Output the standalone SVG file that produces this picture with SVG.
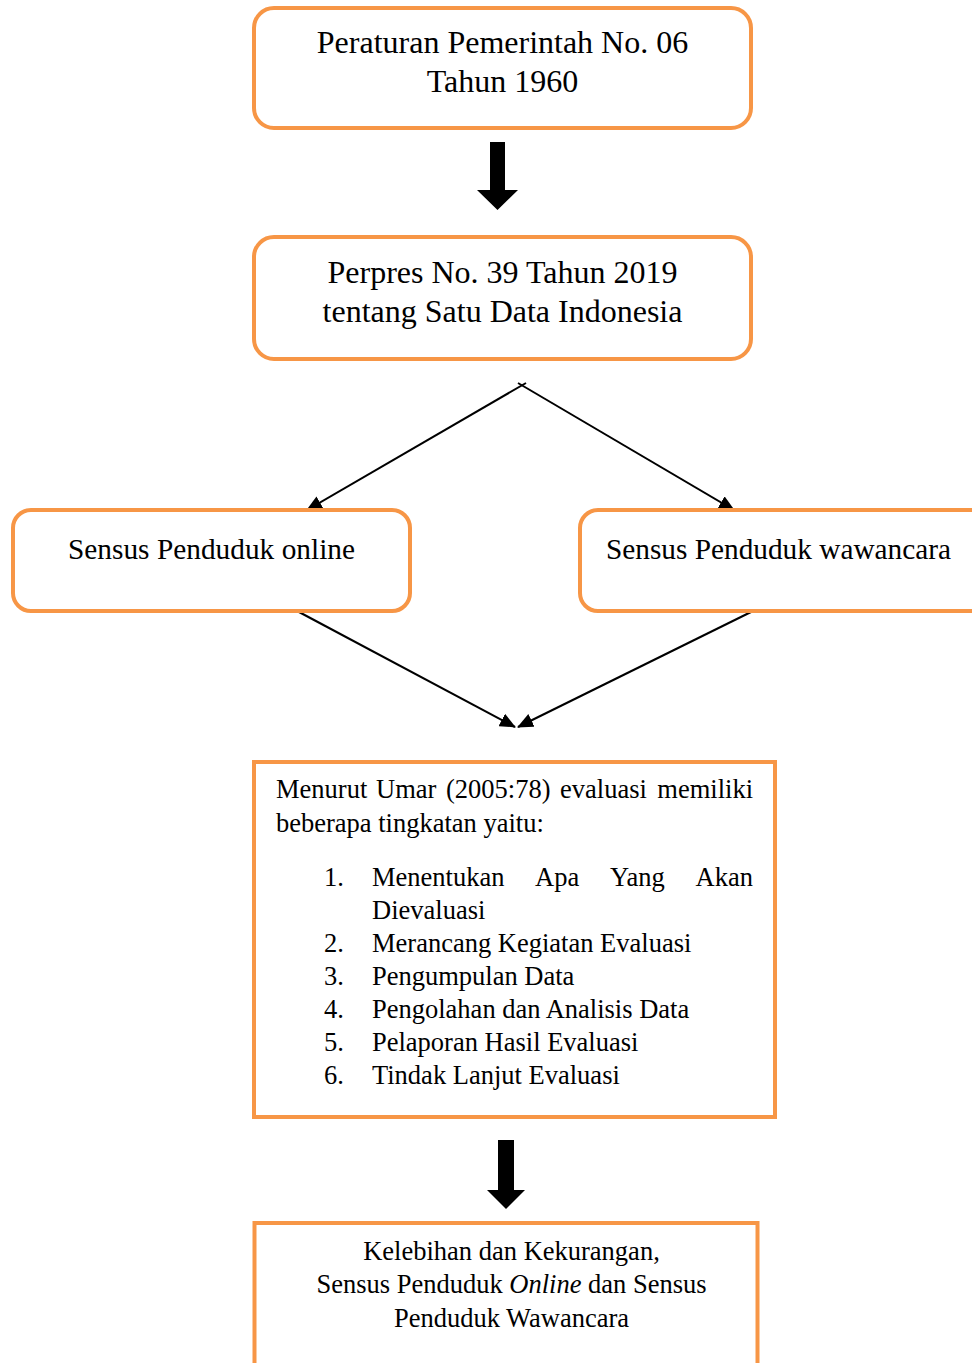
<svg xmlns="http://www.w3.org/2000/svg" width="972" height="1363" viewBox="0 0 972 1363">
<style>
.box{fill:#fff;stroke:#F79646;stroke-width:4}
.t{font-family:"Liberation Serif","Times New Roman",serif;fill:#000}
.big{font-size:32px}
.mid{font-size:29.3px}
.sm{font-size:26.5px}
.c{text-anchor:middle}
.ln{stroke:#000;stroke-width:2;fill:none;marker-end:url(#ah)}
.fat{fill:#000}
</style>
<defs>
<marker id="ah" markerUnits="userSpaceOnUse" markerWidth="16" markerHeight="14" refX="15" refY="7" orient="auto">
<path d="M0,0 L16,7 L0,14 Z" fill="#000"/>
</marker>
</defs>
<rect width="972" height="1363" fill="#fff"/>
<g id="connectors">
<polygon class="fat" points="490,142 505,142 505,190 518,190 497.5,210 477,190 490,190"/>
<line class="ln" x1="526" y1="383" x2="307" y2="510"/>
<line class="ln" x1="518" y1="383" x2="734" y2="510"/>
<line class="ln" x1="299" y1="612" x2="515" y2="727"/>
<line class="ln" x1="751" y1="612" x2="518" y2="727"/>
<polygon class="fat" points="498,1140 514,1140 514,1190 525,1190 506,1209 487,1190 498,1190"/>
</g>
<g id="n1">
<rect class="box" x="254" y="8" width="497" height="120" rx="20"/>
<text class="t big c" x="502.5" y="53">Peraturan Pemerintah No. 06</text>
<text class="t big c" x="502.5" y="92">Tahun 1960</text>
</g>
<g id="n2">
<rect class="box" x="254" y="237" width="497" height="122" rx="20"/>
<text class="t big c" x="502.5" y="283">Perpres No. 39 Tahun 2019</text>
<text class="t big c" x="502.5" y="322">tentang Satu Data Indonesia</text>
</g>
<g id="n3">
<rect class="box" x="13" y="510" width="397" height="101" rx="18"/>
<text class="t mid" x="68" y="559" textLength="287">Sensus Penduduk online</text>
</g>
<g id="n4">
<rect class="box" x="580" y="510" width="410" height="101" rx="18"/>
<text class="t mid" x="606" y="559" textLength="345">Sensus Penduduk wawancara</text>
</g>
<g id="n5">
<rect class="box" x="254" y="762" width="521" height="355"/>
<text class="t sm" y="798"><tspan x="276">Menurut</tspan><tspan x="376">Umar</tspan><tspan x="446">(2005:78)</tspan><tspan x="560">evaluasi</tspan><tspan x="753" text-anchor="end">memiliki</tspan></text>
<text class="t sm" x="276" y="832">beberapa tingkatan yaitu:</text>
<text class="t sm" x="324" y="886">1.</text>
<text class="t sm" y="886"><tspan x="372">Menentukan</tspan><tspan x="535">Apa</tspan><tspan x="610">Yang</tspan><tspan x="753" text-anchor="end">Akan</tspan></text>
<text class="t sm" x="372" y="919">Dievaluasi</text>
<text class="t sm" x="324" y="952">2.</text>
<text class="t sm" x="372" y="952">Merancang Kegiatan Evaluasi</text>
<text class="t sm" x="324" y="985">3.</text>
<text class="t sm" x="372" y="985">Pengumpulan Data</text>
<text class="t sm" x="324" y="1018">4.</text>
<text class="t sm" x="372" y="1018">Pengolahan dan Analisis Data</text>
<text class="t sm" x="324" y="1051">5.</text>
<text class="t sm" x="372" y="1051">Pelaporan Hasil Evaluasi</text>
<text class="t sm" x="324" y="1084">6.</text>
<text class="t sm" x="372" y="1084">Tindak Lanjut Evaluasi</text>
</g>
<g id="n6">
<rect class="box" x="254.5" y="1223" width="503" height="170"/>
<text class="t sm c" x="511.5" y="1260">Kelebihan dan Kekurangan,</text>
<text class="t sm c" x="511.5" y="1293">Sensus Penduduk <tspan font-style="italic">Online</tspan> dan Sensus</text>
<text class="t sm c" x="511.5" y="1327">Penduduk Wawancara</text>
</g>
</svg>
